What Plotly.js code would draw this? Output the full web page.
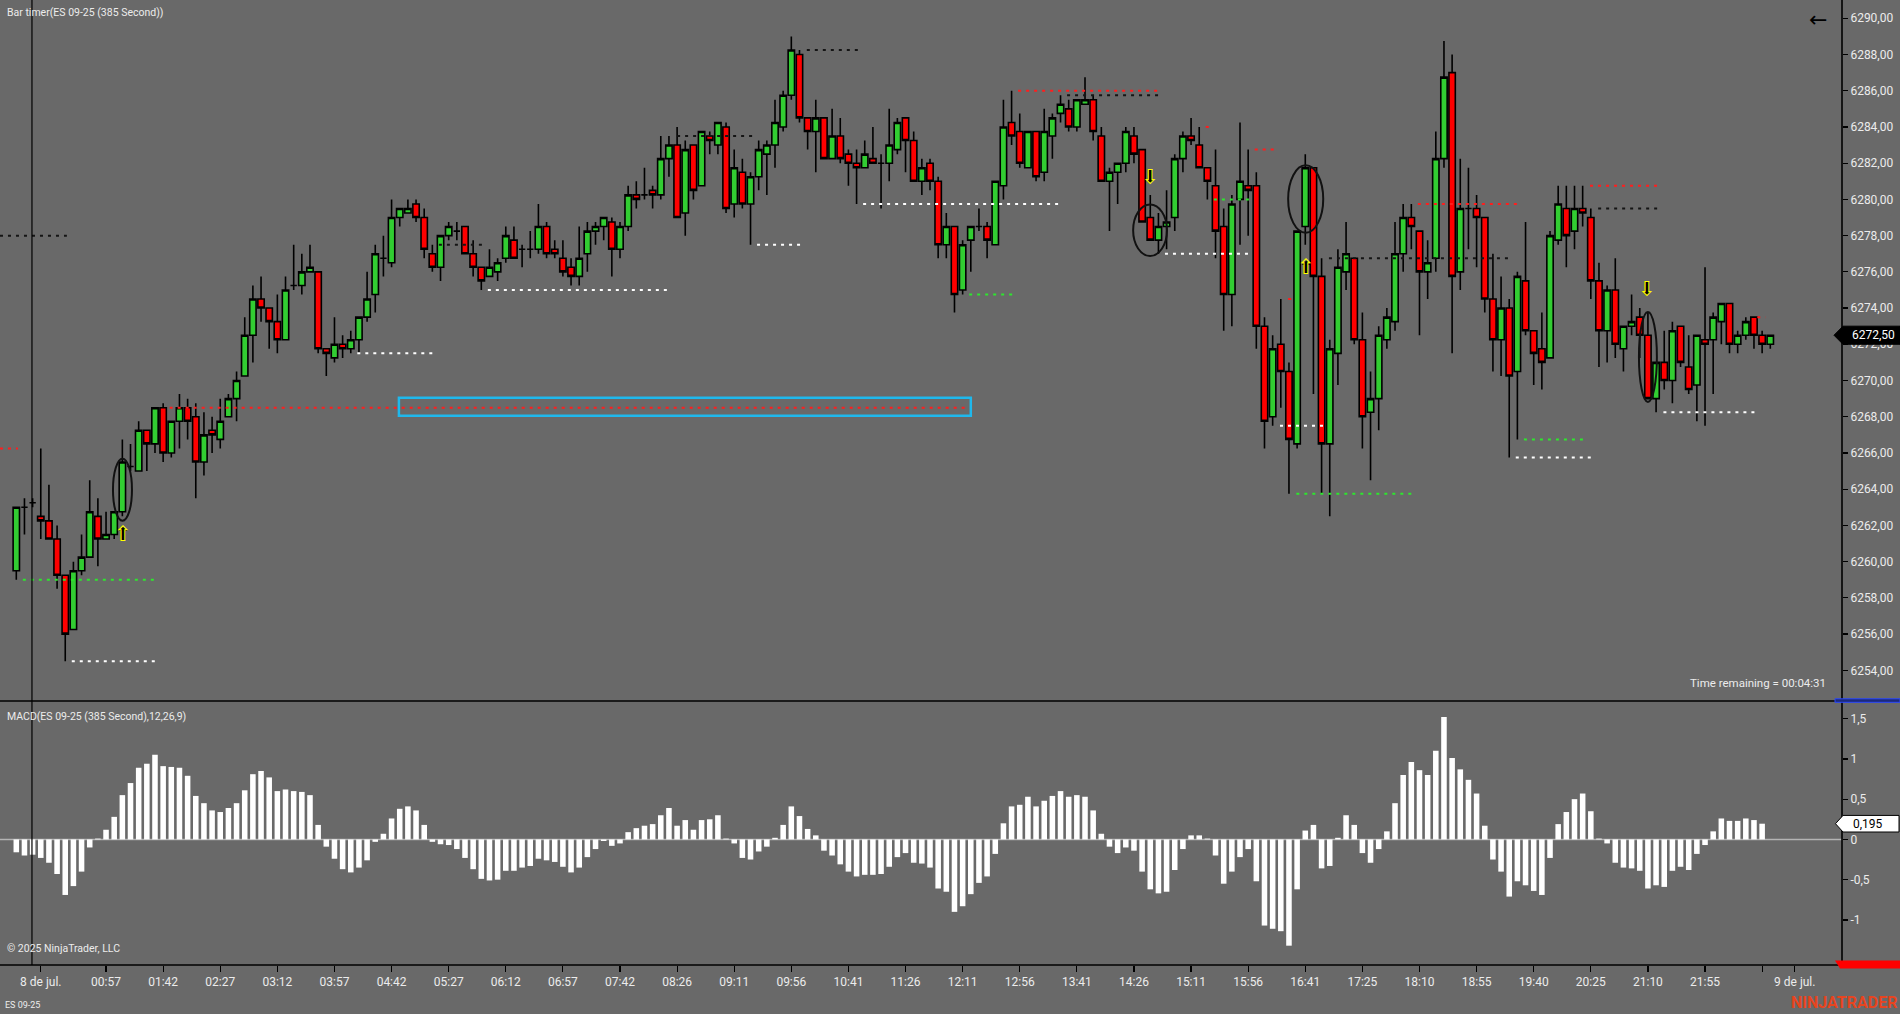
<!DOCTYPE html>
<html>
<head>
<meta charset="utf-8">
<script src="https://cdn.plot.ly/plotly-3.0.1.min.js"></script>
<style>
  html, body { margin: 0; padding: 0; background: #696969; }
  #chart { width: 1900px; height: 1014px; }
</style>
</head>
<body>
<div id="chart"></div>
<script>
// ---------------- DATA ----------------
const opens = [6259.5,6263.0,6263.25,6262.5,6262.25,6261.25,6259.25,6256.25,6259.5,6260.25,
6262.5,6261.25,6261.5,6262.75,6265.25,6265.0,6267.25,6266.5,6268.5,6266.0,
6267.75,6268.5,6268.0,6265.5,6267.25,6266.75,6268.0,6269.0,6270.25,6272.5,
6274.5,6274.0,6273.25,6272.25,6275.25,6275.25,6276.0,6276.0,6271.75,6271.25,
6272.0,6271.75,6272.25,6273.5,6274.75,6276.75,6276.5,6279.0,6279.25,6279.75,
6279.0,6277.0,6276.25,6278.0,6278.25,6278.5,6277.0,6276.25,6275.75,6276.0,
6276.75,6277.75,6277.25,6277.25,6277.25,6278.5,6277.25,6276.75,6276.25,6275.75,
6277.0,6278.25,6278.5,6278.75,6277.25,6278.5,6280.25,6280.25,6280.5,6280.25,
6282.25,6283.0,6279.25,6283.0,6280.75,6283.5,6283.0,6284.0,6279.75,6281.5,
6279.75,6281.25,6282.5,6283.0,6284.0,6285.75,6288.0,6284.5,6283.75,6284.5,
6282.25,6283.5,6282.5,6282.0,6281.75,6282.25,6282.0,6282.0,6282.75,6284.5,
6283.25,6281.0,6282.0,6281.0,6277.5,6278.5,6275.0,6277.75,6278.5,6278.5,
6277.5,6280.75,6284.25,6283.75,6281.75,6283.75,6281.5,6283.5,6284.75,6285.0,
6284.0,6285.25,6285.5,6283.5,6281.0,6281.5,6282.0,6283.5,6282.75,6279.0,
6277.75,6278.5,6279.0,6282.25,6283.5,6283.0,6281.75,6280.75,6278.5,6274.75,
6280.0,6280.75,6280.75,6273.0,6268.0,6272.0,6270.5,6266.5,6278.5,6281.75,
6275.75,6266.5,6271.5,6276.0,6276.75,6272.25,6268.25,6269.0,6272.25,6273.25,
6277.0,6279.0,6278.25,6276.0,6276.75,6282.25,6287.0,6276.0,6279.5,6279.5,
6279.0,6274.5,6272.25,6274.0,6270.5,6275.5,6272.75,6271.75,6271.25,6277.75,
6279.5,6278.25,6279.5,6279.0,6275.5,6272.75,6275.0,6271.75,6273.0,6273.5,
6272.5,6269.0,6271.0,6270.0,6273.0,6270.75,6269.75,6272.25,6272.25,6273.25,
6274.25,6272.0,6272.5,6273.5,6272.5,6272.0];
const highs = [6263.0,6263.5,6263.5,6266.25,6264.25,6262.0,6259.25,6260.0,6261.5,6264.5,
6263.5,6262.75,6262.75,6266.75,6266.5,6267.75,6267.25,6268.5,6268.75,6267.75,
6269.25,6269.0,6268.75,6268.25,6268.0,6269.0,6269.25,6270.5,6273.5,6275.25,
6275.75,6274.0,6274.75,6275.75,6277.5,6277.0,6277.5,6276.0,6271.75,6273.5,
6272.5,6272.75,6273.5,6276.0,6277.5,6278.0,6280.0,6279.5,6280.0,6280.0,
6279.5,6277.5,6278.0,6278.75,6278.75,6278.5,6277.75,6276.25,6277.25,6276.75,
6278.5,6278.5,6277.5,6278.25,6279.75,6278.75,6277.75,6277.75,6276.75,6278.5,
6278.75,6278.75,6279.0,6279.0,6278.75,6280.75,6281.0,6281.75,6280.75,6283.5,
6283.5,6284.0,6283.25,6283.0,6283.75,6283.75,6284.25,6284.25,6282.75,6282.25,
6281.5,6283.25,6283.25,6285.5,6286.0,6289.0,6288.25,6284.5,6285.5,6284.5,
6285.0,6284.5,6282.75,6282.75,6283.25,6284.0,6282.5,6285.0,6284.5,6284.5,
6283.75,6282.25,6282.25,6281.25,6279.25,6278.5,6277.75,6278.5,6279.5,6278.75,
6281.0,6285.5,6286.0,6284.75,6283.75,6283.75,6285.0,6284.75,6285.75,6285.5,
6285.5,6286.75,6285.75,6284.0,6281.75,6282.0,6284.0,6284.0,6282.75,6280.25,
6279.25,6280.5,6282.5,6283.75,6284.5,6284.0,6281.75,6282.75,6279.5,6280.25,
6284.25,6282.75,6281.5,6273.5,6272.5,6274.5,6271.0,6278.25,6282.5,6281.75,
6276.75,6272.25,6277.25,6278.75,6276.75,6273.75,6270.5,6273.0,6274.0,6278.75,
6279.75,6279.75,6278.25,6277.75,6283.75,6288.75,6288.0,6282.25,6281.75,6280.25,
6279.0,6277.0,6275.75,6274.5,6276.0,6278.75,6272.75,6273.75,6278.25,6280.75,
6280.75,6280.75,6280.75,6279.5,6276.5,6275.25,6276.75,6273.0,6274.75,6274.0,
6273.75,6271.0,6272.75,6273.25,6273.0,6272.5,6272.5,6276.25,6273.75,6274.25,
6274.25,6272.75,6273.5,6273.5,6272.75,6272.5];
const lows = [6259.0,6261.5,6263.0,6261.25,6261.25,6258.5,6254.5,6256.25,6259.25,6260.25,
6259.75,6261.25,6261.25,6262.5,6265.0,6265.0,6265.0,6266.0,6265.5,6265.75,
6266.25,6266.75,6263.5,6264.75,6266.0,6266.25,6268.0,6267.75,6270.25,6271.0,
6273.25,6271.75,6271.5,6272.25,6275.0,6274.75,6276.0,6271.5,6270.25,6271.0,
6271.25,6271.5,6271.5,6273.25,6273.75,6275.75,6276.25,6278.5,6279.25,6278.75,
6276.75,6276.0,6275.5,6277.75,6277.75,6277.0,6275.75,6275.0,6275.75,6275.5,
6276.5,6276.75,6276.25,6276.75,6277.0,6276.75,6276.75,6275.75,6275.25,6275.25,
6276.0,6277.5,6277.75,6275.75,6276.75,6278.25,6279.5,6280.0,6279.5,6280.0,
6281.25,6279.0,6278.0,6280.0,6280.75,6282.5,6282.5,6279.25,6279.0,6279.5,
6277.5,6280.5,6280.25,6281.75,6283.75,6285.5,6284.25,6282.75,6281.5,6282.25,
6282.25,6282.0,6280.75,6279.75,6281.75,6282.0,6279.5,6281.0,6282.5,6281.5,
6281.0,6280.25,6280.5,6276.75,6276.75,6273.75,6274.75,6276.0,6278.25,6276.75,
6277.5,6280.0,6283.0,6281.75,6281.75,6281.0,6281.0,6282.25,6284.25,6283.75,
6283.75,6285.25,6283.25,6281.0,6278.25,6279.75,6281.5,6282.0,6278.75,6277.75,
6277.0,6277.25,6278.25,6281.5,6283.0,6281.75,6280.0,6276.75,6272.75,6273.0,
6277.5,6278.0,6271.75,6266.25,6267.5,6268.5,6263.75,6266.25,6277.5,6269.25,
6263.75,6262.5,6269.75,6275.0,6272.0,6266.25,6264.5,6267.25,6271.75,6272.75,
6276.0,6277.25,6272.5,6274.5,6276.0,6281.75,6271.5,6275.0,6277.25,6276.25,
6273.75,6270.5,6270.25,6265.75,6266.75,6272.5,6269.75,6269.5,6271.25,6277.5,
6276.25,6277.25,6278.5,6274.5,6270.75,6271.0,6271.25,6270.5,6272.5,6271.25,
6269.0,6268.25,6269.5,6268.75,6270.75,6269.25,6267.75,6267.5,6269.25,6272.0,
6271.5,6271.5,6272.25,6271.75,6271.5,6271.75];
const closes = [6263.0,6263.0,6263.25,6262.25,6261.25,6259.25,6256.0,6259.5,6260.25,6262.75,
6261.25,6261.5,6262.75,6265.5,6265.25,6267.25,6266.5,6268.5,6266.0,6267.75,
6268.5,6267.75,6265.5,6267.0,6267.0,6267.75,6269.0,6270.0,6272.5,6274.5,
6274.0,6273.25,6272.25,6275.0,6275.25,6276.0,6276.25,6271.75,6271.5,6272.0,
6271.75,6272.25,6273.5,6274.5,6277.0,6276.75,6279.0,6279.5,6279.5,6279.0,
6277.25,6276.25,6278.0,6278.5,6278.25,6277.0,6276.25,6275.5,6276.25,6276.5,
6278.0,6276.75,6277.25,6277.25,6278.5,6277.0,6277.0,6276.0,6275.75,6276.75,
6278.25,6278.5,6279.0,6277.25,6278.5,6280.25,6280.0,6280.25,6280.25,6282.25,
6283.0,6279.0,6282.75,6280.5,6283.75,6283.25,6284.25,6279.5,6281.75,6279.75,
6281.25,6282.75,6283.0,6284.25,6285.75,6288.25,6284.5,6283.75,6284.5,6282.25,
6283.5,6282.25,6282.0,6281.75,6282.5,6282.0,6282.0,6283.0,6284.25,6283.25,
6281.0,6281.75,6281.0,6277.5,6278.5,6274.75,6277.5,6278.5,6278.5,6277.75,
6281.0,6284.0,6283.5,6282.0,6283.75,6281.25,6283.75,6284.5,6285.25,6284.0,
6285.5,6285.5,6283.75,6281.0,6281.5,6282.0,6283.75,6282.5,6278.75,6277.75,
6278.5,6278.75,6282.25,6283.5,6283.25,6281.75,6281.0,6278.25,6274.75,6279.75,
6281.0,6280.5,6273.0,6267.75,6271.75,6270.5,6266.75,6278.25,6281.75,6275.75,
6266.5,6271.75,6276.25,6277.0,6272.25,6268.0,6269.0,6272.5,6273.5,6277.0,
6279.0,6278.5,6276.0,6276.5,6282.25,6286.75,6275.75,6279.5,6279.5,6279.0,
6274.5,6272.25,6274.0,6270.25,6275.75,6272.75,6271.5,6271.0,6278.0,6279.75,
6278.0,6279.5,6279.25,6275.5,6272.75,6275.0,6272.0,6273.0,6273.25,6272.5,
6269.0,6271.0,6270.0,6272.75,6271.0,6269.5,6272.5,6272.0,6273.5,6274.25,
6272.0,6272.5,6273.25,6272.5,6272.0,6272.5];

// MACD histogram (last, still-forming bar has no value)
const macdDiff = [-0.16,-0.20,-0.19,-0.23,-0.29,-0.43,-0.69,-0.58,-0.40,-0.10,
0.01,0.12,0.28,0.55,0.70,0.89,0.94,1.05,0.91,0.90,
0.89,0.79,0.54,0.45,0.36,0.34,0.39,0.45,0.61,0.81,
0.85,0.77,0.60,0.62,0.60,0.59,0.55,0.18,-0.09,-0.24,
-0.37,-0.41,-0.35,-0.26,-0.03,0.07,0.26,0.38,0.41,0.36,
0.18,-0.03,-0.06,-0.07,-0.12,-0.23,-0.37,-0.49,-0.51,-0.50,
-0.39,-0.39,-0.35,-0.33,-0.24,-0.26,-0.28,-0.34,-0.41,-0.35,
-0.22,-0.12,-0.02,-0.08,-0.05,0.09,0.14,0.17,0.19,0.30,
0.39,0.17,0.24,0.12,0.24,0.25,0.30,0.01,-0.05,-0.23,
-0.25,-0.15,-0.09,0.02,0.18,0.41,0.29,0.13,0.05,-0.14,
-0.20,-0.31,-0.40,-0.46,-0.44,-0.44,-0.43,-0.34,-0.22,-0.17,
-0.29,-0.30,-0.35,-0.61,-0.65,-0.90,-0.83,-0.68,-0.54,-0.46,
-0.18,0.20,0.41,0.43,0.53,0.41,0.48,0.54,0.60,0.53,
0.55,0.53,0.36,0.07,-0.09,-0.17,-0.10,-0.14,-0.40,-0.62,
-0.67,-0.65,-0.38,-0.12,0.05,0.05,0.01,-0.20,-0.55,-0.40,
-0.22,-0.12,-0.52,-1.07,-1.11,-1.14,-1.32,-0.62,0.11,0.18,
-0.36,-0.33,0.02,0.30,0.18,-0.17,-0.29,-0.12,0.10,0.45,
0.80,0.96,0.86,0.80,1.10,1.52,1.01,0.87,0.74,0.57,
0.17,-0.25,-0.40,-0.71,-0.52,-0.57,-0.64,-0.69,-0.23,0.19,
0.34,0.50,0.57,0.35,0.01,-0.05,-0.29,-0.35,-0.36,-0.39,
-0.61,-0.57,-0.59,-0.39,-0.34,-0.38,-0.18,-0.07,0.10,0.26,
0.23,0.23,0.26,0.24,0.195];

// time axis labels (bar index where each label sits)
const timeTickBars = [3,11,18,25,32,39,46,53,60,67,74,81,88,95,102,109,116,123,130,137,144,151,158,165,172,179,186,193,200,207,214,218];
const timeTickText = ['8 de jul.','00:57','01:42','02:27','03:12','03:57','04:42','05:27','06:12','06:57','07:42','08:26','09:11','09:56','10:41','11:26','12:11','12:56','13:41','14:26','15:11','15:56','16:41','17:25','18:10','18:55','19:40','20:25','21:10','21:55','','9 de jul.'];

const priceTicks = [6254,6256,6258,6260,6262,6264,6266,6268,6270,6272,6274,6276,6278,6280,6282,6284,6286,6288,6290];
const macdTicks = [-1,-0.5,0,0.5,1,1.5];

// horizontal level lines (price, from bar, to bar, kind)
const levelPrice = [6278.0,6266.25,6259.0,6254.5,6268.5,6271.5,6277.5,6275.0,6283.5,6277.5,6288.25,6279.75,6274.75,6286.0,6285.75,6284.0,6277.0,6280.0,6282.75,6274.5,6267.5,6263.75,6276.75,6279.75,6266.75,6265.75,6280.75,6279.5,6268.25,6273.5];
const levelFrom  = [-2.0,-2.0,0.8,6.8,18.8,41.8,51.8,57.8,81.0,90.8,96.9,103.8,116.8,122.8,128.8,145.8,140.8,146.8,151.8,155.9,154.9,156.9,160.9,171.8,184.8,183.8,192.9,193.9,201.9,213.4];
const levelTo    = [6.2,0.2,17.2,17.2,116.3,51.3,57.2,80.1,90.3,96.3,103.2,128.3,122.3,140.2,140.2,146.2,151.2,151.5,154.3,156.4,160.2,171.2,183.3,184.3,192.4,193.3,201.4,201.4,213.4,214.4];
const levelKind  = ['black','red','green','white','red','white','black','white','black','white','black','white','green','red','black','red','white','green','red','red','white','green','black','red','green','white','red','black','white','red'];

// signal arrows
const signalBar   = [13.1, 139.0, 158.1, 199.9];
const signalPrice = [6261.45, 6281.15, 6276.15, 6274.95];
const signalDir   = ['up','down','up','down'];

// ellipses around signal bars
const ellX0 = [11.85, 136.9, 155.9, 198.9];
const ellX1 = [14.18, 141.05, 160.2, 201.1];
const ellY0 = [6262.26, 6276.87, 6278.16, 6268.82];
const ellY1 = [6265.68, 6279.72, 6281.88, 6273.79];

// highlighted zone
const zoneX = [46.9, 117.0];
const zoneY = [6268.05, 6269.05];

const cursorBar = 1.92;
const lastPrice = 6272.5;
const lastMacd = 0.195;

// ---------------- LAYOUT ----------------
const W = 1900, H = 1014, M = {l: 0, r: 58, t: 0, b: 49};
const plotW = W - M.l - M.r, plotH = H - M.t - M.b;
const priceDom = [1 - 700 / plotH, 1];
const macdDom = [0, (plotH - 702.3) / plotH];
const priceRange = [6252.36, 6291.01];
const macdRange = [-1.56, 1.703];
const xRange = [-1.998, 223.79];
const px2x = px => px / plotW;
const py2y = py => (plotH - py) / plotH;
const priceToPaper = p => priceDom[0] + (p - priceRange[0]) / (priceRange[1] - priceRange[0]) * (priceDom[1] - priceDom[0]);
const macdToPaper = v => macdDom[0] + (v - macdRange[0]) / (macdRange[1] - macdRange[0]) * (macdDom[1] - macdDom[0]);

const BG = '#696969';
const TXT = '#ececec';
const FONT = 'Roboto, "Noto Sans", sans-serif';
const kindColor = {black: '#141414', red: '#ff1e1e', green: '#2ee62e', white: '#ffffff'};

const idx = opens.map((_, i) => i);
const traces = [];

// level lines grouped by kind
Object.keys(kindColor).forEach(k => {
  const xs = [], ys = [];
  levelPrice.forEach((p, i) => {
    if (levelKind[i] !== k) return;
    xs.push(levelFrom[i], levelTo[i], null);
    ys.push(p, p, null);
  });
  traces.push({
    type: 'scatter', mode: 'lines', x: xs, y: ys, xaxis: 'x', yaxis: 'y',
    line: {color: kindColor[k], width: 2, dash: '3px,5px'},
    connectgaps: false, hoverinfo: 'skip', showlegend: false
  });
});

traces.push({
  type: 'candlestick', x: idx, open: opens, high: highs, low: lows, close: closes,
  xaxis: 'x', yaxis: 'y',
  increasing: {fillcolor: '#32cd32', line: {color: '#000000', width: 1.6}},
  decreasing: {fillcolor: '#ff0000', line: {color: '#000000', width: 1.6}},
  whiskerwidth: 0, hoverinfo: 'skip', showlegend: false
});

// arrows
['up', 'down'].forEach(d => {
  const xs = [], ys = [];
  signalDir.forEach((s, i) => { if (s === d) { xs.push(signalBar[i]); ys.push(signalPrice[i]); } });
  traces.push({
    type: 'scatter', mode: 'text', x: xs, y: ys, xaxis: 'x', yaxis: 'y',
    text: xs.map(() => d === 'up' ? '⬆' : '⬇'),
    textfont: {color: '#000000', size: 18, family: 'DejaVu Sans'},
    textposition: 'middle center', hoverinfo: 'skip', showlegend: false
  });
  traces.push({
    type: 'scatter', mode: 'text', x: xs, y: ys, xaxis: 'x', yaxis: 'y',
    text: xs.map(() => d === 'up' ? '⇧' : '⇩'),
    textfont: {color: '#ffff00', size: 21, family: 'DejaVu Sans'},
    textposition: 'middle center', hoverinfo: 'skip', showlegend: false
  });
});

traces.push({
  type: 'bar', x: macdDiff.map((_, i) => i), y: macdDiff, xaxis: 'x', yaxis: 'y2',
  marker: {color: '#ffffff', line: {width: 0}}, width: 0.68,
  hoverinfo: 'skip', showlegend: false
});

const shapes = [];
shapes.push({type: 'rect', xref: 'x', yref: 'y', x0: zoneX[0], x1: zoneX[1], y0: zoneY[0], y1: zoneY[1],
  line: {color: '#1fb8ec', width: 2.5}, fillcolor: 'rgba(0,0,0,0)'});
ellX0.forEach((_, i) => shapes.push({type: 'circle', xref: 'x', yref: 'y',
  x0: ellX0[i], x1: ellX1[i], y0: ellY0[i], y1: ellY1[i], line: {color: '#111111', width: 2}}));
shapes.push({type: 'line', xref: 'x', yref: 'y2', x0: xRange[0], x1: xRange[1], y0: 0, y1: 0,
  line: {color: '#b4b4b4', width: 1.5}, layer: 'below'});
shapes.push({type: 'line', xref: 'x', yref: 'paper', x0: cursorBar, x1: cursorBar, y0: 0, y1: 1,
  line: {color: '#000000', width: 1.2}});
shapes.push({type: 'line', xref: 'paper', yref: 'paper', x0: 0, x1: px2x(W), y0: py2y(701), y1: py2y(701), line: {color: '#000000', width: 1.6}});
shapes.push({type: 'line', xref: 'paper', yref: 'paper', x0: 0, x1: px2x(W), y0: 0, y1: 0, line: {color: '#000000', width: 1.6}});
shapes.push({type: 'line', xref: 'paper', yref: 'paper', x0: 1, x1: 1, y0: 0, y1: 1, line: {color: '#000000', width: 1.6}});
{
  const yc = priceToPaper(lastPrice), h = priceToPaper(lastPrice + 0.5) - yc;
  const a = px2x(1834), b = px2x(1843), c = px2x(W);
  shapes.push({type: 'path', xref: 'paper', yref: 'paper',
    path: `M${a},${yc} L${b},${yc + h} L${c},${yc + h} L${c},${yc - h} L${b},${yc - h} Z`,
    fillcolor: '#000000', line: {color: '#000000', width: 1}});
}
{
  const yc = macdToPaper(lastMacd), h = (8.3 / plotH);
  const a = px2x(1835.5), b = px2x(1843), c = px2x(W - 1);
  shapes.push({type: 'path', xref: 'paper', yref: 'paper',
    path: `M${a},${yc} L${b},${yc + h} L${c},${yc + h} L${c},${yc - h} L${b},${yc - h} Z`,
    fillcolor: '#ffffff', line: {color: '#000000', width: 1}});
}
shapes.push({type: 'rect', xref: 'paper', yref: 'paper', x0: px2x(1835), x1: px2x(W), y0: py2y(702.3), y1: py2y(698.8),
  fillcolor: '#1c2a7a', line: {color: '#2a48ff', width: 1}});
shapes.push({type: 'path', xref: 'paper', yref: 'paper',
  path: `M${px2x(1835)},${py2y(960.5)} L${px2x(W)},${py2y(960.5)} L${px2x(W)},${py2y(968.5)} L${px2x(1840)},${py2y(968.5)} Z`,
  fillcolor: '#ff0000', line: {color: '#ff0000', width: 0}});

const annotations = [
  {xref: 'paper', yref: 'paper', x: px2x(5), y: py2y(13), xanchor: 'left', yanchor: 'middle', showarrow: false,
   text: 'Bar timer(ES 09-25 (385 Second))', font: {family: FONT, size: 10.5, color: TXT}},
  {xref: 'paper', yref: 'paper', x: px2x(5), y: py2y(716), xanchor: 'left', yanchor: 'middle', showarrow: false,
   text: 'MACD(ES 09-25 (385 Second),12,26,9)', font: {family: FONT, size: 10.5, color: TXT}},
  {xref: 'paper', yref: 'paper', x: px2x(5), y: py2y(948.5), xanchor: 'left', yanchor: 'middle', showarrow: false,
   text: '© 2025 NinjaTrader, LLC', font: {family: FONT, size: 10.5, color: TXT}},
  {xref: 'paper', yref: 'paper', x: px2x(3), y: py2y(1005), xanchor: 'left', yanchor: 'middle', showarrow: false,
   text: 'ES 09-25', font: {family: FONT, size: 9, color: TXT}},
  {xref: 'paper', yref: 'paper', x: px2x(1828), y: py2y(682.5), xanchor: 'right', yanchor: 'middle', showarrow: false,
   text: 'Time remaining = 00:04:31', font: {family: FONT, size: 11.5, color: TXT}},
  {xref: 'paper', yref: 'paper', x: px2x(1818), y: py2y(20), xanchor: 'center', yanchor: 'middle', showarrow: false,
   text: '←', font: {family: 'DejaVu Sans', size: 22, color: '#000000'}},
  {xref: 'paper', yref: 'paper', x: px2x(1899), y: py2y(1002), xanchor: 'right', yanchor: 'middle', showarrow: false,
   text: '<b>NINJATRADER</b>', font: {family: 'Roboto, sans-serif', size: 16, color: '#e8441e'}},
  {xref: 'paper', yref: 'paper', x: px2x(1850), y: priceToPaper(lastPrice), xanchor: 'left', yanchor: 'middle', showarrow: false,
   text: '6272,50', font: {family: FONT, size: 12, color: '#ffffff'}},
  {xref: 'paper', yref: 'paper', x: px2x(1851), y: macdToPaper(lastMacd), xanchor: 'left', yanchor: 'middle', showarrow: false,
   text: '0,195', font: {family: FONT, size: 12, color: '#000000'}}
];

const layout = {
  width: W, height: H,
  margin: {l: M.l, r: M.r, t: M.t, b: M.b, autoexpand: false},
  paper_bgcolor: BG, plot_bgcolor: BG,
  showlegend: false, hovermode: false,
  boxgap: 0.22, boxgroupgap: 0,
  bargap: 0.3,
  xaxis: {
    range: xRange, anchor: 'y2', showgrid: false, zeroline: false, showline: false,
    tickmode: 'array', tickvals: timeTickBars, ticktext: timeTickText,
    ticks: 'outside', ticklen: 6, tickcolor: '#000000', tickwidth: 1.2,
    tickfont: {family: FONT, size: 12, color: TXT},
    rangeslider: {visible: false}, fixedrange: true
  },
  yaxis: {
    domain: priceDom, range: priceRange, side: 'right', anchor: 'x',
    showgrid: false, zeroline: false, showline: false,
    tickmode: 'array', tickvals: priceTicks, ticktext: priceTicks.map(v => v.toFixed(2).replace('.', ',')),
    ticks: 'outside', ticklen: 5, tickcolor: '#000000', tickwidth: 1.2,
    tickfont: {family: FONT, size: 12, color: TXT}, fixedrange: true
  },
  yaxis2: {
    domain: macdDom, range: macdRange, side: 'right', anchor: 'x',
    showgrid: false, zeroline: false, showline: false,
    tickmode: 'array', tickvals: macdTicks, ticktext: macdTicks.map(v => String(v).replace('.', ',')),
    ticks: 'outside', ticklen: 5, tickcolor: '#000000', tickwidth: 1.2,
    tickfont: {family: FONT, size: 12, color: TXT}, fixedrange: true
  },
  shapes: shapes,
  annotations: annotations
};

Plotly.newPlot('chart', traces, layout, {staticPlot: true, displayModeBar: false});
</script>
</body>
</html>
